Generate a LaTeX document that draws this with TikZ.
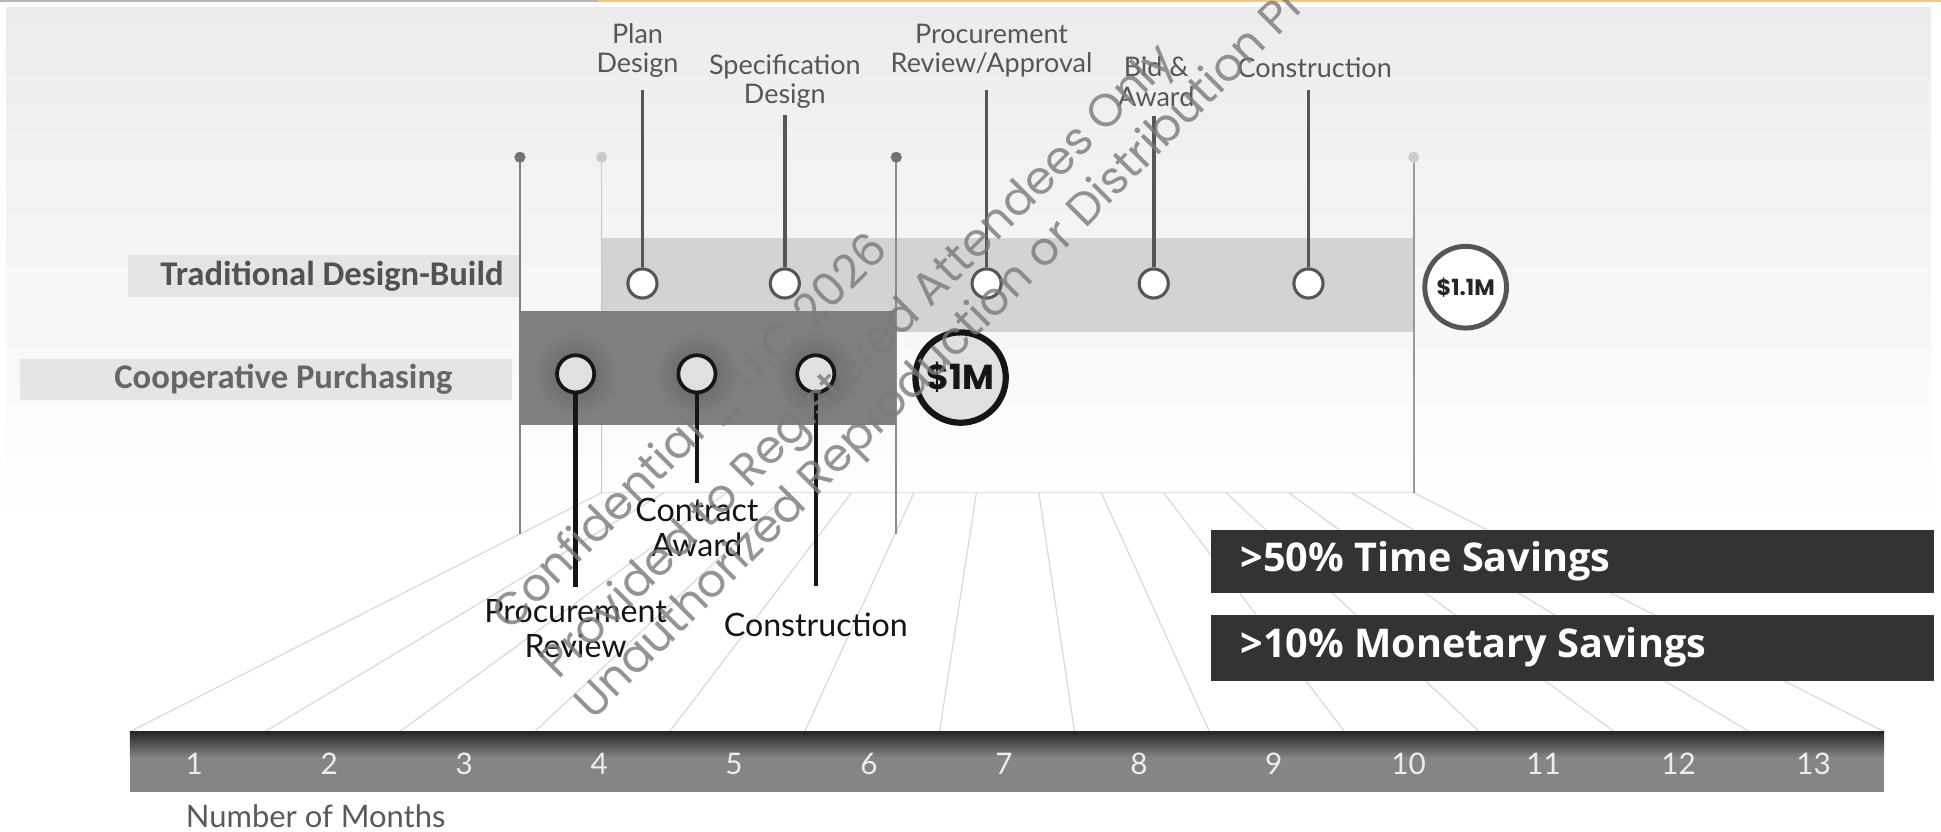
\documentclass[tikz,border=0pt]{standalone}
\usepackage{fontspec}
\setmainfont{Lato}
\newfontfamily\lato{Lato}
\newfontfamily\popp{Poppins}
\newfontfamily\calib{Carlito}
\newfontfamily\opens{Open Sans}
\definecolor{bgtop}{HTML}{ECECEC}
\definecolor{tradbar}{HTML}{D3D3D3}
\definecolor{coopbar}{HTML}{7F7F7F}
\definecolor{tdark}{HTML}{565656}
\definecolor{cdark}{HTML}{151515}
\definecolor{cfill}{HTML}{E0E0E0}
\definecolor{floorc}{HTML}{DADADA}
\definecolor{orangeline}{HTML}{F7C873}
\definecolor{topgray}{HTML}{B4B8BC}
\definecolor{labbox}{HTML}{E5E5E5}
\definecolor{savebox}{HTML}{333333}
\definecolor{numbar}{HTML}{858585}
\tikzset{
  tcirc/.style={circle, draw=tdark, line width=2.5pt, fill=white, minimum size=23.5pt, inner sep=0pt},
  ccirc/.style={circle, draw=cdark, line width=3pt, fill=cfill, minimum size=30pt, inner sep=0pt},
  tstem/.style={draw=tdark, line width=3pt},
  cstem/.style={draw=cdark, line width=3.5pt},
  tlabel/.style={font=\lato\fontsize{21.8}{23.5}\selectfont, text=tdark, align=center, inner sep=0pt},
  clabel/.style={font=\lato\fontsize{26}{28}\selectfont, text=cdark, align=center, inner sep=0pt},
  rowlabel/.style={font=\calib\bfseries\fontsize{28}{30}\selectfont, inner sep=0pt},
  vline/.style={line width=1.4pt},
  floorline/.style={draw=floorc, line width=1pt},
  num/.style={font=\lato\fontsize{24}{26}\selectfont, text=white!93!black, inner sep=0pt},
  savetext/.style={font=\opens\bfseries\fontsize{32}{34}\selectfont, text=white, anchor=west, inner sep=0pt},
  wm/.style={font=\popp\fontsize{37}{39}\selectfont, text=black!52, opacity=0.8, rotate=45, anchor=base west, inner sep=0pt}
}
\begin{document}
\begin{tikzpicture}[x=1pt,y=-1pt]
\useasboundingbox (0,0) rectangle (1568,672);
\clip (0,0) rectangle (1568,672);
\fill[white] (0,0) rectangle (1568,672);
% top border
\draw[topgray, line width=2pt] (0,1) -- (483,1);
\draw[orangeline, line width=2pt] (483,1) -- (1568,1);
% background panel
\shade[top color=bgtop, bottom color=white] (5,6) rectangle (1560,425);
% floor perspective lines
\foreach \k in {0,...,13} {
  \draw[floorline] ({105+109*\k},591) -- ({486+50.46*\k},398);
}
\draw[draw=black!12, line width=1pt] (486,398) -- (1142,398);
% row labels
\node[rowlabel, fill=labbox, minimum width=316pt, minimum height=34pt, anchor=east] (tradbox) at (420,223) {};
\node[rowlabel, anchor=east, text=black!68] (tradlab) at (407,223) {Traditional Design-Build};
\node[rowlabel, fill=labbox, minimum width=398pt, minimum height=33pt] (coopbox) at (215,306.5) {};
\node[rowlabel, text=black!60] (cooplab) at (229,306.5) {Cooperative Purchasing};
% traditional bar
\fill[tradbar] (486,192) rectangle (1142,268);
% vertical span lines with dots
\draw[vline, draw=black!50] (420,127) -- (420,431);
\fill[black!55] (420,127) circle (4.5);
\draw[vline, draw=black!22] (486,127) -- (486,398);
\fill[black!20] (486,127) circle (4.5);
\draw[vline, draw=black!45] (724,127) -- (724,431);
\fill[black!55] (724,127) circle (4.5);
\draw[vline, draw=black!40] (1142,127) -- (1142,398);
\fill[black!20] (1142,127) circle (4.5);
% cooperative bar
\fill[coopbar] (420,251) rectangle (724,343);
\begin{scope}
  \clip (420,251) rectangle (724,343);
  \foreach \cx in {465,563,659} {
    \shade[inner color=black!62, outer color=coopbar] (\cx,302) circle (34);
  }
\end{scope}
% traditional milestones
\node[tcirc] (t1) at (519,229) {};
\node[tcirc] (t2) at (634,229) {};
\node[tcirc] (t3) at (797,229) {};
\node[tcirc] (t4) at (932,229) {};
\node[tcirc] (t5) at (1057,229) {};
\coordinate (t1top) at (519,73);
\coordinate (t2top) at (634,93);
\coordinate (t3top) at (797,73);
\coordinate (t4top) at (932,94);
\coordinate (t5top) at (1057,73);
\foreach \i in {1,...,5} { \draw[tstem] (t\i) -- (t\i top); }
\node[tlabel] (l1) at (515,41) {Plan\\Design};
\node[tlabel] (l2) at (634,66) {Specification\\Design};
\node[tlabel] (l3) at (801,41) {Procurement\\Review/Approval};
\node[tlabel] (l4) at (934,66) {Bid \&\\Award};
\node[tlabel] (l5) at (1062,55) {Construction};
% cooperative milestones
\node[ccirc] (c1) at (465,302) {};
\node[ccirc] (c2) at (563,302) {};
\node[ccirc] (c3) at (659,302) {};
\coordinate (c1bot) at (465,474);
\coordinate (c2bot) at (563,390);
\coordinate (c3bot) at (659,473);
\foreach \i in {1,2,3} { \draw[cstem] (c\i) -- (c\i bot); }
\node[clabel] (m1) at (465,508) {Procurement\\Review};
\node[clabel] (m2) at (563,426) {Contract\\Award};
\node[clabel] (m3) at (659,505) {Construction};
% cost circles
\node[circle, draw=cdark, line width=5pt, fill=cfill, minimum size=73pt, inner sep=0pt, font=\popp\bfseries\fontsize{28}{30}\selectfont, text=cdark] (coopcost) at (776,305) {\$1M};
\node[circle, draw=tdark, line width=4pt, fill=white, minimum size=66pt, inner sep=0pt, font=\popp\bfseries\fontsize{18}{20}\selectfont, text=black!85] (tradcost) at (1184,232) {\$1.1M};
% month bar
\fill[numbar] (105,591) rectangle (1522,640);
\shade[top color=black!85, bottom color=numbar] (105,591) rectangle (1522,612);
\foreach \n in {1,...,13} {
  \node[num] (n\n) at ({157+109*(\n-1)},617) {\n};
}
\node[font=\lato\fontsize{25}{27}\selectfont, text=black!65, inner sep=0pt] (months) at (255,659) {Number of Months};
% savings boxes
\fill[savebox] (978,428) rectangle (1562,479);
\node[savetext] (s1) at (1002,453) {>50\% Time Savings};
\fill[savebox] (978,497) rectangle (1562,550);
\node[savetext] (s2) at (1002,523) {>10\% Monetary Savings};
% watermark
\node[wm] (w1) at (412,511) {Confidential \_ UIC 2026};
\node[wm] (w2) at (451,550) {Provided to Registered Attendees Only};
\node[wm] (w3) at (479,583) {Unauthorized Reproduction or Distribution Prohibited};
\end{tikzpicture}
\end{document}
